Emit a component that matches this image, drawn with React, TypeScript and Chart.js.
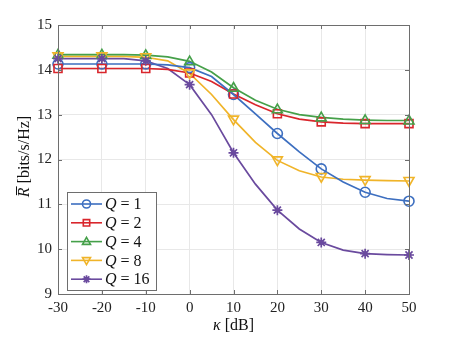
import React, { useEffect, useRef } from "react";
import { Chart, registerables } from "chart.js";

Chart.register(...registerables);

const kappa = [-30, -25, -20, -15, -10, -5, 0, 5, 10, 15, 20, 25, 30, 35, 40, 45, 50];
const q1 = [14.13, 14.13, 14.13, 14.13, 14.13, 14.11, 14.05, 13.85, 13.45, 13.02, 12.58, 12.17, 11.79, 11.5, 11.27, 11.13, 11.07];
const q2 = [14.03, 14.03, 14.03, 14.03, 14.03, 14.01, 13.93, 13.74, 13.46, 13.22, 13.02, 12.9, 12.84, 12.81, 12.8, 12.8, 12.8];
const q4 = [14.34, 14.34, 14.34, 14.34, 14.33, 14.29, 14.19, 13.95, 13.6, 13.32, 13.12, 13.0, 12.94, 12.9, 12.88, 12.87, 12.87];
const q8 = [14.3, 14.3, 14.3, 14.3, 14.28, 14.2, 13.92, 13.45, 12.89, 12.38, 11.98, 11.75, 11.61, 11.56, 11.54, 11.53, 11.52];
const q16 = [14.25, 14.25, 14.25, 14.25, 14.2, 14.03, 13.67, 13.0, 12.15, 11.45, 10.87, 10.45, 10.15, 9.98, 9.9, 9.88, 9.87];
const legendLabels = ["1", "2", "4", "8", "16"];
const xTicks = [-30, -20, -10, 0, 10, 20, 30, 40, 50];
const yTicks = [9, 10, 11, 12, 13, 14, 15];

const colors = ["#3d6fc0", "#d9262c", "#45a049", "#f0b429", "#6a4a9e"];
const markers = ["circle", "rect", "triangle", "triangleDown", "star"];

const SERIF = "'Liberation Serif', 'DejaVu Serif', serif";

function drawMarker(ctx: CanvasRenderingContext2D, type: string, x: number, y: number, r: number, color: string) {
  ctx.save();
  ctx.strokeStyle = color;
  ctx.fillStyle = color;
  ctx.lineWidth = 1.6;
  ctx.beginPath();
  if (type === "circle") {
    ctx.arc(x, y, r, 0, Math.PI * 2);
    ctx.stroke();
  } else if (type === "rect") {
    ctx.rect(x - r * 0.8, y - r * 0.8, r * 1.6, r * 1.6);
    ctx.stroke();
  } else if (type === "triangle") {
    ctx.moveTo(x, y - r * 1.05);
    ctx.lineTo(x + r, y + r * 0.7);
    ctx.lineTo(x - r, y + r * 0.7);
    ctx.closePath();
    ctx.stroke();
  } else if (type === "triangleDown") {
    ctx.moveTo(x, y + r * 1.05);
    ctx.lineTo(x + r, y - r * 0.7);
    ctx.lineTo(x - r, y - r * 0.7);
    ctx.closePath();
    ctx.stroke();
  } else if (type === "star") {
    ctx.lineWidth = 1.7;
    for (let i = 0; i < 4; i++) {
      const a = (i * Math.PI) / 4;
      ctx.moveTo(x - Math.cos(a) * r, y - Math.sin(a) * r);
      ctx.lineTo(x + Math.cos(a) * r, y + Math.sin(a) * r);
    }
    ctx.stroke();
    ctx.beginPath();
    ctx.arc(x, y, r * 0.5, 0, Math.PI * 2);
    ctx.fill();
  }
  ctx.restore();
}

const customPlugin = {
  id: "custom",
  afterDatasetsDraw(chart: any) {
    const ctx: CanvasRenderingContext2D = chart.ctx;
    const xs = chart.scales.x;
    const ys = chart.scales.y;
    chart.data.datasets.forEach((ds: any, i: number) => {
      ds.data.forEach((p: any) => {
        if (p.x % 10 === 0) {
          drawMarker(ctx, markers[i], xs.getPixelForValue(p.x), ys.getPixelForValue(p.y), 5, colors[i]);
        }
      });
    });
  },
  afterDraw(chart: any) {
    const ctx: CanvasRenderingContext2D = chart.ctx;
    const { left, right, top, bottom } = chart.chartArea;
    const xs = chart.scales.x;
    const ys = chart.scales.y;
    ctx.save();
    ctx.strokeStyle = "#6e6e6e";
    ctx.lineWidth = 1;
    ctx.strokeRect(left + 0.5, top + 0.5, right - left, bottom - top);
    ctx.beginPath();
    xTicks.forEach((v) => {
      const px = Math.round(xs.getPixelForValue(v)) + 0.5;
      ctx.moveTo(px, bottom);
      ctx.lineTo(px, bottom - 4);
      ctx.moveTo(px, top);
      ctx.lineTo(px, top + 4);
    });
    yTicks.forEach((v) => {
      const py = Math.round(ys.getPixelForValue(v)) + 0.5;
      ctx.moveTo(left, py);
      ctx.lineTo(left + 4, py);
      ctx.moveTo(right, py);
      ctx.lineTo(right - 4, py);
    });
    ctx.stroke();

    // legend
    const lx = 67, ly = 192, lw = 89, lh = 98;
    ctx.fillStyle = "#ffffff";
    ctx.fillRect(lx, ly, lw, lh);
    ctx.strokeStyle = "#6e6e6e";
    ctx.strokeRect(lx + 0.5, ly + 0.5, lw, lh);
    const rowH = 18.8;
    legendLabels.forEach((lab, i) => {
      const cy = ly + 12 + i * rowH;
      ctx.strokeStyle = colors[i];
      ctx.lineWidth = 1.6;
      ctx.beginPath();
      ctx.moveTo(lx + 4, cy);
      ctx.lineTo(lx + 35, cy);
      ctx.stroke();
      drawMarker(ctx, markers[i], lx + 19.5, cy, 4, colors[i]);
      ctx.fillStyle = "#111111";
      ctx.textBaseline = "middle";
      ctx.textAlign = "left";
      ctx.font = `italic 16px ${SERIF}`;
      ctx.fillText("Q", lx + 38, cy + 1);
      const qw = ctx.measureText("Q").width;
      ctx.font = `16px ${SERIF}`;
      ctx.fillText(" = " + lab, lx + 38 + qw, cy + 1);
    });

    // x title
    ctx.fillStyle = "#111111";
    ctx.textBaseline = "middle";
    ctx.font = `italic 16px ${SERIF}`;
    const k = "κ";
    const rest = " [dB]";
    const kw = ctx.measureText(k).width;
    ctx.font = `16px ${SERIF}`;
    const rw = ctx.measureText(rest).width;
    const xc = (left + right) / 2;
    const x0 = xc - (kw + rw) / 2;
    ctx.textAlign = "left";
    ctx.font = `italic 16px ${SERIF}`;
    ctx.fillText(k, x0, 326);
    ctx.font = `16px ${SERIF}`;
    ctx.fillText(rest, x0 + kw, 326);

    // y title
    ctx.save();
    ctx.translate(25, (top + bottom) / 2 - 3);
    ctx.rotate(-Math.PI / 2);
    ctx.font = `italic 16px ${SERIF}`;
    const rW = ctx.measureText("R").width;
    ctx.font = `16px ${SERIF}`;
    const unit = " [bits/s/Hz]";
    const uW = ctx.measureText(unit).width;
    const sx = -(rW + uW) / 2;
    ctx.font = `italic 16px ${SERIF}`;
    ctx.fillText("R", sx, 0);
    // bar over R
    ctx.strokeStyle = "#111111";
    ctx.lineWidth = 1;
    ctx.beginPath();
    ctx.moveTo(sx + 2, -8.5);
    ctx.lineTo(sx + rW + 1, -8.5);
    ctx.stroke();
    ctx.font = `16px ${SERIF}`;
    ctx.fillText(unit, sx + rW, 0);
    ctx.restore();

    ctx.restore();
  },
};

export default function App() {
  const ref = useRef<HTMLCanvasElement | null>(null);
  useEffect(() => {
    if (!ref.current) return;
    const series = [q1, q2, q4, q8, q16];
    const chart = new Chart(ref.current, {
      type: "line",
      data: {
        datasets: series.map((s, i) => ({
          label: "Q = " + legendLabels[i],
          data: kappa.map((k, j) => ({ x: k, y: s[j] })),
          borderColor: colors[i],
          backgroundColor: colors[i],
          borderWidth: 1.7,
          pointRadius: 0,
          tension: 0,
          fill: false,
        })),
      },
      options: {
        animation: false,
        responsive: false,
        events: [],
        layout: { padding: { left: 0, right: 43, top: 25, bottom: 0 } },
        plugins: { legend: { display: false }, tooltip: { enabled: false } },
        scales: {
          x: {
            type: "linear",
            min: -30,
            max: 50,
            afterBuildTicks: (s: any) => {
              s.ticks = xTicks.map((v) => ({ value: v }));
            },
            afterFit: (s: any) => {
              s.height = 45;
            },
            grid: { color: "#e8e8e8", drawTicks: false, lineWidth: 1 },
            border: { display: false },
            ticks: {
              padding: 5,
              color: "#222222",
              font: { family: SERIF, size: 15 },
              callback: (v: any) => String(v),
            },
          },
          y: {
            type: "linear",
            min: 9,
            max: 15,
            afterBuildTicks: (s: any) => {
              s.ticks = yTicks.map((v) => ({ value: v }));
            },
            afterFit: (s: any) => {
              s.width = 58;
            },
            grid: { color: "#e8e8e8", drawTicks: false, lineWidth: 1 },
            border: { display: false },
            ticks: {
              padding: 6,
              color: "#222222",
              font: { family: SERIF, size: 15 },
              callback: (v: any) => String(v),
            },
          },
        },
      },
      plugins: [customPlugin],
    } as any);
    return () => chart.destroy();
  }, []);
  return (
    <div style={{ position: "fixed", left: 0, top: 0, width: 452, height: 339, background: "#fff" }}>
      <canvas ref={ref} width={452} height={339} style={{ width: 452, height: 339 }} />
    </div>
  );
}
